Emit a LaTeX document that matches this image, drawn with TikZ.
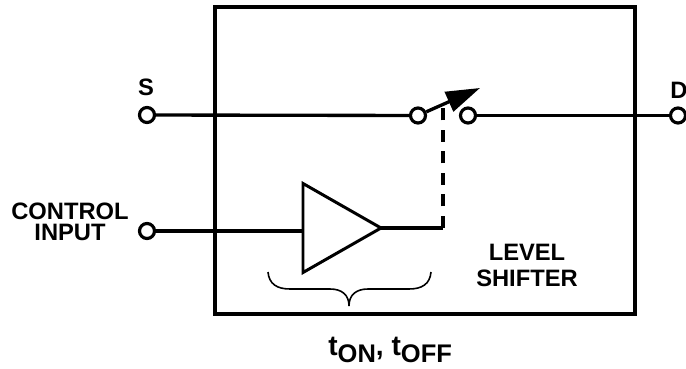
\documentclass[tikz,border=0pt]{standalone}
\usepackage{fontspec}
\setmainfont{Liberation Sans}
\usetikzlibrary{arrows.meta, positioning, calc, shapes.geometric}

\begin{document}
\begin{tikzpicture}[
  >={Triangle[length=6.8mm, width=4.2mm]},
  term/.style={
    draw, circle, line width=1.8pt, fill=white, minimum size=3mm, inner sep=0pt
  },
  wire/.style={line width=1.9pt},
  lbl/.style={align=center, inner sep=0pt},
]
\useasboundingbox (0,0) rectangle (13.72,7.36);

% Level shifter box
\node[draw, line width=1.9pt, minimum width=84mm, minimum height=61.4mm, inner sep=0pt]
  (shifter) at (8.5,4.15) {};

% Terminals
\node[term] (src) at (2.94,5.06) {};
\node[term] (swa) at (8.36,5.05) {};
\node[term] (swb) at (9.36,5.05) {};
\node[term] (drn) at (13.56,5.05) {};
\node[term] (ctrl) at (2.94,2.74) {};

% Buffer
\node[draw, isosceles triangle, isosceles triangle stretches, line width=1.7pt,
      minimum width=17.8mm, minimum height=15.6mm, inner sep=0pt, outer sep=0pt, anchor=apex]
  (buf) at (7.62,2.80) {};

% Labels
\node[lbl, font=\fontsize{13.5}{14}\selectfont\bfseries] (slbl) at (2.92,5.62) {S};
\node[lbl, font=\fontsize{13.5}{14}\selectfont\bfseries] (dlbl) at (13.58,5.56) {D};
\node[lbl, font=\fontsize{13.5}{12}\selectfont\bfseries] (ctrllbl) at (1.40,2.93) {CONTROL\\INPUT};
\node[lbl, font=\fontsize{13.5}{14.5}\selectfont\bfseries] (lvllbl) at (10.54,2.05) {LEVEL\\SHIFTER};
\node[font=\fontsize{16}{20}\selectfont\bfseries, inner sep=0pt, anchor=base west] (tlbl) at (6.56,0.26)
  {t\raisebox{-4.5pt}{\fontsize{14.5}{16}\selectfont ON}, t\raisebox{-4.5pt}{\fontsize{14.5}{16}\selectfont OFF}};

% Wires
\draw[wire] (src) -- (swa);
\draw[wire] (swb) -- (drn);
\draw[wire] (ctrl) -- (ctrl -| buf.left corner);
\coordinate (sw-tip) at (9.60,5.60);
\coordinate (sw-mid) at (8.86,5.20);
\draw[wire] (buf.apex) -- (sw-mid |- buf.apex) coordinate (gate);
\draw[line width=2.4pt, dash pattern=on 2.4mm off 1.9mm] (gate) -- (sw-mid);
\draw[wire, ->] (swa) -- (sw-tip);

% Brace
\coordinate (br-left) at (5.36,1.92);
\coordinate (br-right) at (8.62,1.92);
\coordinate (br-tip) at (6.98,1.24);
\draw[line width=0.9pt]
  (br-left) .. controls (5.38,1.68) and (5.54,1.58) .. (5.80,1.58)
  -- (6.60,1.58) .. controls (6.84,1.58) and (6.98,1.46) .. (br-tip)
  .. controls (6.98,1.46) and (7.12,1.58) .. (7.36,1.58)
  -- (8.18,1.58) .. controls (8.44,1.58) and (8.60,1.68) .. (br-right);

\end{tikzpicture}
\end{document}
